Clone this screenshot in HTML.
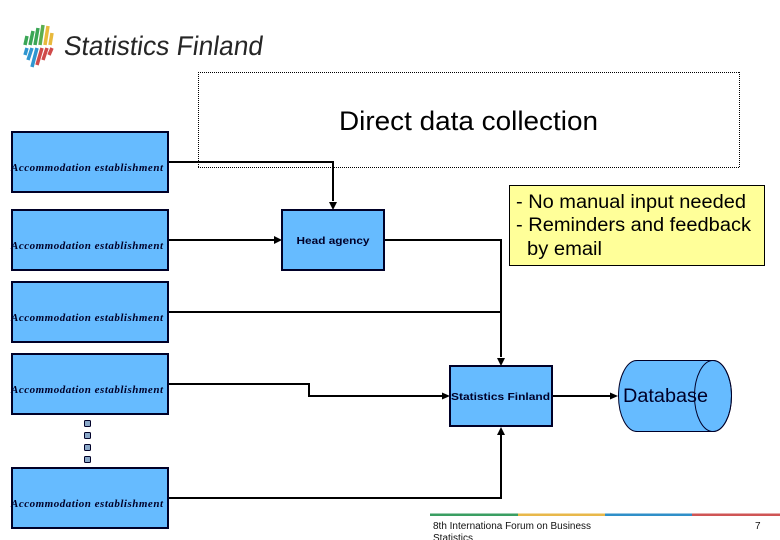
<!DOCTYPE html>
<html>
<head>
<meta charset="utf-8">
<style>
html,body{margin:0;padding:0;background:#fff;}
#p{position:relative;width:780px;height:540px;overflow:hidden;background:#fff;}
svg{position:absolute;left:0;top:0;}
text{font-family:"Liberation Sans",sans-serif;}
.ac{font-family:"Liberation Serif",serif;font-style:italic;font-weight:bold;font-size:11px;fill:#000028;}
.b{fill:#66bbff;stroke:#000028;stroke-width:2;}
.l{fill:none;stroke:#000;stroke-width:2;}
</style>
</head>
<body>
<div id="p">
<svg width="780" height="540" viewBox="0 0 780 540">
  <!-- logo -->
  <g stroke-width="3.500" fill="none">
    <path d="M25 45L27 36" stroke="#3aa655"/>
    <path d="M30 45L33 31" stroke="#3aa655"/>
    <path d="M35 45L38 28" stroke="#3aa655"/>
    <path d="M40 45L43 25" stroke="#5aae50"/>
    <path d="M45 45L48 26" stroke="#e8b93c"/>
    <path d="M50 45L52 33" stroke="#e8b93c"/>
    <path d="M27 48L25 55" stroke="#2f96d0"/>
    <path d="M32 48L28 60" stroke="#2f96d0"/>
    <path d="M37 48L32 67" stroke="#2f96d0"/>
    <path d="M42 48L37 65" stroke="#d04a4a"/>
    <path d="M47 48L43 60" stroke="#d04a4a"/>
    <path d="M52 48L49 55" stroke="#d04a4a"/>
  </g>
  <text transform="translate(63 55) skewX(-8)" font-size="27" fill="#262626" textLength="199" lengthAdjust="spacingAndGlyphs">Statistics Finland</text>

  <!-- dotted title box -->
  <rect x="198" y="72" width="542" height="96" fill="#fff"/>
  <g fill="none" stroke="#000" stroke-width="1" stroke-dasharray="1 1" shape-rendering="crispEdges">
    <path d="M198 72.500H740"/>
    <path d="M198 167.500H740"/>
    <path d="M198.500 72V168"/>
    <path d="M739.500 72V168"/>
  </g>
  <text x="339" y="130" font-size="27" fill="#000" textLength="259" lengthAdjust="spacingAndGlyphs">Direct data collection</text>

  <!-- connectors -->
  <path class="l" d="M168 162H333V201"/>
  <path class="l" d="M168 240H274"/>
  <path class="l" d="M384 240H501V357"/>
  <path class="l" d="M168 312H501"/>
  <path class="l" d="M168 384H309V396H442"/>
  <path class="l" d="M168 498H501V435"/>
  <path class="l" d="M552 396H610"/>

  <!-- arrowheads -->
  <path d="M329 202H337L333 210Z" fill="#000"/>
  <path d="M274 236V244L282 240Z" fill="#000"/>
  <path d="M497 358H505L501 366Z" fill="#000"/>
  <path d="M442 392.500V399.500L450 396Z" fill="#000"/>
  <path d="M497 435H505L501 427Z" fill="#000"/>
  <path d="M610 392.500V399.500L618 396Z" fill="#000"/>

  <!-- source boxes -->
  <rect class="b" x="12" y="132" width="156" height="60"/>
  <rect class="b" x="12" y="210" width="156" height="60"/>
  <rect class="b" x="12" y="282" width="156" height="60"/>
  <rect class="b" x="12" y="354" width="156" height="60"/>
  <rect class="b" x="12" y="468" width="156" height="60"/>
  <text class="ac" x="11" y="171" textLength="152" lengthAdjust="spacing">Accommodation establishment</text>
  <text class="ac" x="11" y="249" textLength="152" lengthAdjust="spacing">Accommodation establishment</text>
  <text class="ac" x="11" y="321" textLength="152" lengthAdjust="spacing">Accommodation establishment</text>
  <text class="ac" x="11" y="393" textLength="152" lengthAdjust="spacing">Accommodation establishment</text>
  <text class="ac" x="11" y="507" textLength="152" lengthAdjust="spacing">Accommodation establishment</text>

  <!-- dots -->
  <g fill="#8aa8c8" stroke="#000028" stroke-width="1">
    <rect x="84.500" y="420.500" width="6" height="6" rx="1"/>
    <rect x="84.500" y="432.500" width="6" height="6" rx="1"/>
    <rect x="84.500" y="444.500" width="6" height="6" rx="1"/>
    <rect x="84.500" y="456.500" width="6" height="6" rx="1"/>
  </g>

  <!-- head agency -->
  <rect class="b" x="282" y="210" width="102" height="60"/>
  <text x="296.500" y="244" font-size="10.500" font-weight="bold" fill="#000028" textLength="73" lengthAdjust="spacingAndGlyphs">Head agency</text>

  <!-- yellow note -->
  <rect x="509.500" y="185.500" width="255" height="80" fill="#ffff99" stroke="#000" stroke-width="1"/>
  <text font-size="19" fill="#000">
    <tspan x="516" y="208" textLength="230" lengthAdjust="spacingAndGlyphs">- No manual input needed</tspan>
    <tspan x="516" y="231" textLength="235" lengthAdjust="spacingAndGlyphs">- Reminders and feedback</tspan>
    <tspan x="527" y="255" textLength="75" lengthAdjust="spacingAndGlyphs">by email</tspan>
  </text>

  <!-- statistics finland -->
  <rect class="b" x="450" y="366" width="102" height="60"/>
  <text x="451" y="400" font-size="10.500" font-weight="bold" fill="#000028" textLength="99" lengthAdjust="spacingAndGlyphs">Statistics Finland</text>

  <!-- database -->
  <path d="M637 360.500H713C723 360.500 731.500 376 731.500 396C731.500 416 723 431.500 713 431.500H637C627 431.500 618.500 416 618.500 396C618.500 376 627 360.500 637 360.500Z" fill="#66bbff" stroke="#000028" stroke-width="1"/>
  <ellipse cx="713" cy="396" rx="18.500" ry="35.500" fill="none" stroke="#000028" stroke-width="1"/>
  <text x="623" y="402" font-size="19" fill="#000028" textLength="85" lengthAdjust="spacingAndGlyphs">Database</text>

  <!-- footer -->
  <rect x="430" y="513.500" width="88" height="2.500" fill="#3a9e62"/>
  <rect x="518" y="513.500" width="87" height="2.500" fill="#e8b84a"/>
  <rect x="605" y="513.500" width="87" height="2.500" fill="#2f8fc8"/>
  <rect x="692" y="513.500" width="88" height="2.500" fill="#cf5555"/>
  <text x="433" y="529" font-size="10" fill="#111" textLength="158" lengthAdjust="spacingAndGlyphs">8th Internationa Forum on Business</text>
  <text x="433" y="541" font-size="10" fill="#111" textLength="40" lengthAdjust="spacingAndGlyphs">Statistics</text>
  <text x="755" y="529" font-size="10" fill="#111">7</text>
</svg>
</div>
</body>
</html>
